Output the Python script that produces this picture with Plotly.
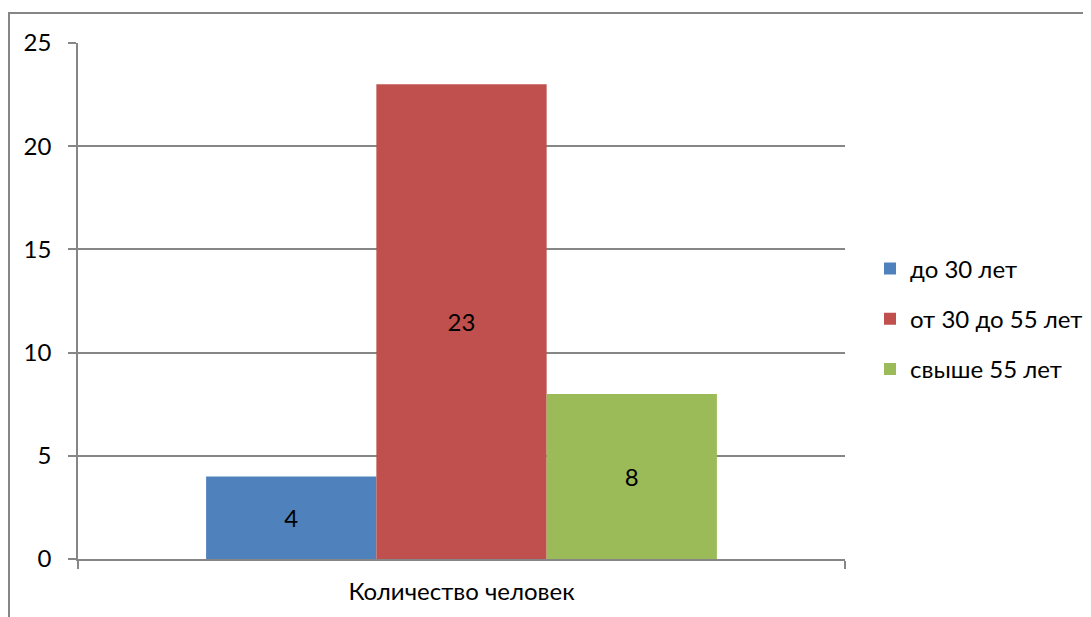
import plotly.graph_objects as go

categories = ["Количество человек"]
series_names = ["до 30 лет", "от 30 до 55 лет", "свыше 55 лет"]
series_values = [[4], [23], [8]]
colors = ["#4F81BD", "#C0504D", "#9BBB59"]
y_ticks = [0, 5, 10, 15, 20, 25]

FONT = "Lato"
GRAY = "#868686"
FS = 24

fig = go.Figure()
for i, (name, vals) in enumerate(zip(series_names, series_values)):
    fig.add_trace(go.Bar(
        x=categories, y=vals, name=name, marker_color=colors[i],
        marker_line_width=0,
        text=[str(v) for v in vals], textposition="inside",
        insidetextanchor="middle",
        textfont=dict(family=FONT, size=FS, color="black"),
        legendgroup=name,
    ))

# page is drawn with an 8px body offset; target screen positions below
OFF = 8
W, H = 1091, 617
sL, sR, sT, sB = 78, 845, 43, 559  # plot area in screen px
L = sL - OFF
T = sT - OFF
R = W - (sR - OFF)
B = H - (sB - OFF)
pw, ph = sR - sL, sB - sT

def px_x(p):
    return (p - sL) / pw

def px_y(p):
    return (sB - p) / ph

fig.update_layout(
    width=W, height=H,
    margin=dict(l=L, r=R, t=T, b=B, autoexpand=False),
    paper_bgcolor="white", plot_bgcolor="white",
    barmode="group", bargap=0.334, bargroupgap=0,
    font=dict(family=FONT, size=FS, color="black"),
    showlegend=True,
    legend=dict(x=px_x(870), y=px_y(319), xanchor="left", yanchor="middle",
                font=dict(family=FONT, size=FS), tracegroupgap=16,
                itemclick=False),
    xaxis=dict(showgrid=False, showline=True, linecolor=GRAY, linewidth=1.5,
               ticks="outside", tickson="boundaries", ticklen=8, tickcolor=GRAY,
               tickwidth=1.5, tickfont=dict(family=FONT, size=FS),
               ticklabelstandoff=10),
    yaxis=dict(range=[0, 25], tickvals=y_ticks, showgrid=True, gridcolor=GRAY,
               gridwidth=1.5, showline=True, linecolor=GRAY, linewidth=1.5,
               ticks="outside", ticklen=8, tickcolor=GRAY, tickwidth=1.5,
               tickfont=dict(family=FONT, size=FS), zeroline=False,
               ticklabelstandoff=12),
    shapes=[dict(type="rect", xref="paper", yref="paper",
                 x0=px_x(9), x1=px_x(1100), y0=px_y(630), y1=px_y(13),
                 line=dict(color=GRAY, width=2), fillcolor="rgba(0,0,0,0)",
                 layer="below")],
)

fig.write_html("out.html")
